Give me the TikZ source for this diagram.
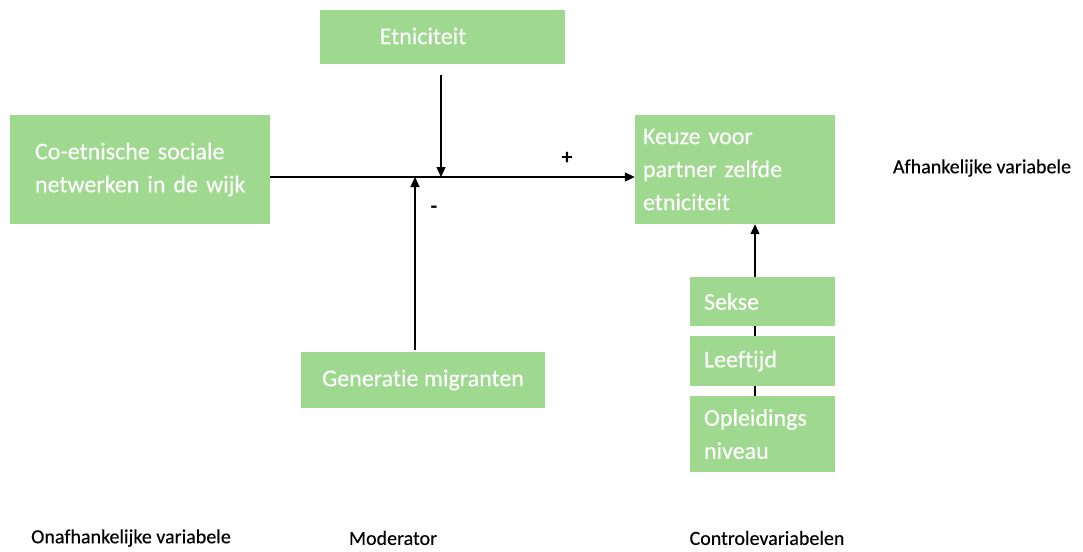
\documentclass[tikz,border=0pt]{standalone}
\usepackage{fontspec}
\setmainfont{Carlito}[Ligatures={NoCommon}]
\newfontfamily\semifont{Carlito}[Ligatures={NoCommon},FakeBold=0.3]
\usetikzlibrary{arrows.meta}
\definecolor{boxgreen}{RGB}{159,217,143}
\begin{document}
\begin{tikzpicture}[x=1pt,y=-1pt,
  gbox/.style={fill=boxgreen,draw=none,inner sep=0pt,text=white,font=\semifont\fontsize{24}{33}\selectfont},
  lbl/.style={font=\semifont\fontsize{20}{24}\selectfont,text=black},
  conn/.style={line width=1.2pt,-{Triangle[length=10pt,width=9pt]}},
  plain/.style={line width=1.2pt}]
\useasboundingbox (0,0) rectangle (1083,551);
% boxes
\node[gbox,minimum width=260pt,minimum height=109pt,align=left,text width=236pt] (co) at (140,169.5) {\hspace*{13pt}Co-etnische sociale\\\hspace*{13pt}netwerken in de wijk};
\node[gbox,minimum width=245pt,minimum height=54pt] (et) at (442.5,37) {};
\node[text=white,font=\semifont\fontsize{24}{33}\selectfont] (ettxt) at (423,36) {Etniciteit};
\node[gbox,minimum width=244pt,minimum height=56pt] (gen) at (423,380) {Generatie migranten};
\node[gbox,minimum width=200pt,minimum height=109pt,align=left,text width=184pt] (ke) at (735,169.5) {Keuze voor\\partner zelfde\\etniciteit};
\node[gbox,minimum width=145pt,minimum height=49pt,align=left,text width=117pt] (se) at (762.5,301.5) {Sekse};
\node[gbox,minimum width=145pt,minimum height=50pt,align=left,text width=117pt] (le) at (762.5,361) {Leeftijd};
\node[gbox,minimum width=145pt,minimum height=76pt,align=left,text width=117pt] (op) at (762.5,434) {Opleidings\\niveau};
% labels
\node[lbl] (afh) at (982,168) {Afhankelijke variabele};
\node[lbl] (onaf) at (131,538) {Onafhankelijke variabele};
\node[lbl] (mod) at (393,538) {Moderator};
\node[lbl] (ctrl) at (767,538) {Controlevariabelen};
\node[font=\fontsize{22}{24}\selectfont\bfseries] (plus) at (567,158) {+};
\node[font=\fontsize{22}{24}\selectfont\bfseries] (minus) at (434,210) {-};
% connectors
\coordinate (etin) at (441,177);
\coordinate (genin) at (415,177);
\coordinate (etout) at (441,75);
\coordinate (genout) at (415,350);
\draw[conn] (co.east |- 0,177) -- (ke.west |- 0,177);
\draw[conn] (etout) -- (etin);
\draw[conn] (genout) -- (genin);
\draw[conn] (se.north -| 755,0) -- (ke.south -| 755,0);
\draw[plain] (se.south -| 755,0) -- (le.north -| 755,0);
\draw[plain] (le.south -| 755,0) -- (op.north -| 755,0);
\end{tikzpicture}
\end{document}
